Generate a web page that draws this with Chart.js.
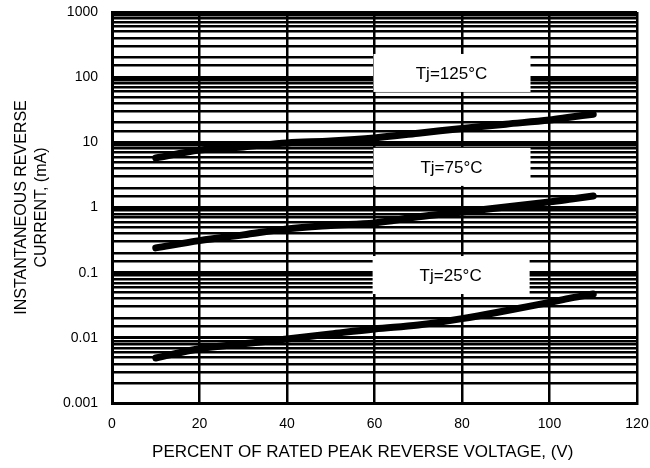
<!DOCTYPE html>
<html>
<head>
<meta charset="utf-8">
<script src="https://cdn.jsdelivr.net/npm/chart.js@4"></script>
<style>
  body { margin: 0; background: #fff; }
  canvas { display: block; }
</style>
</head>
<body>
<canvas id="chart" width="650" height="468"></canvas>
<script>
// percent of rated peak reverse voltage
const xValues = [10, 20, 30, 40, 50, 60, 70, 80, 90, 100, 105, 110];

// instantaneous reverse current (mA)
const current125 = [5.75, 7.6, 8.5, 9.8, 10.5, 11.7, 13.8, 16.3, 19, 22, 24.5, 27];
const current75 = [0.24, 0.31, 0.38, 0.47, 0.53, 0.58, 0.72, 0.85, 1.02, 1.22, 1.35, 1.5];
const current25 = [0.0049, 0.0068, 0.0081, 0.0096, 0.0115, 0.0137, 0.0157, 0.0197, 0.026, 0.035, 0.041, 0.047];

const xTicks = [0, 20, 40, 60, 80, 100, 120];
const yTickLabels = ["0.001", "0.01", "0.1", "1", "10", "100", "1000"];

// curve labels: text, x centre (percent), y centre (mA)
const labelTexts = ["Tj=125°C", "Tj=75°C", "Tj=25°C"];
const labelX = [77.6, 77.6, 77.4];
const labelY = [116, 4.2, 0.092];

const FONT = "'Liberation Sans', Arial, sans-serif";

function curve(values) {
  return {
    data: xValues.map((x, i) => ({ x: x, y: values[i] })),
    borderColor: "#000",
    borderWidth: 7,
    borderCapStyle: "round",
    borderJoinStyle: "round",
    pointRadius: 0,
    tension: 0.35,
    fill: false
  };
}

const labelBoxes = {
  id: "labelBoxes",
  beforeDatasetsDraw(chart) {
    const ctx = chart.ctx;
    const xs = chart.scales.x, ys = chart.scales.y;
    ctx.save();
    ctx.font = "17px " + FONT;
    ctx.textAlign = "center";
    ctx.textBaseline = "middle";
    labelTexts.forEach((t, i) => {
      const cx = xs.getPixelForValue(labelX[i]);
      const cy = ys.getPixelForValue(labelY[i]);
      ctx.fillStyle = "#fff";
      ctx.fillRect(cx - 78, cy - 19, 157, 38);
      ctx.fillStyle = "#000";
      ctx.fillText(t, cx, cy + 1);
    });
    ctx.restore();
  }
};

function isDecade(v) {
  const l = Math.log10(v);
  return Math.abs(l - Math.round(l)) < 1e-6;
}

new Chart(document.getElementById("chart"), {
  type: "line",
  data: {
    datasets: [curve(current125), curve(current75), curve(current25)]
  },
  options: {
    responsive: false,
    animation: false,
    layout: { padding: { top: 12, right: 13, left: 0, bottom: 0 } },
    plugins: {
      legend: { display: false },
      tooltip: { enabled: false }
    },
    scales: {
      x: {
        type: "linear",
        min: 0,
        max: 120,
        afterBuildTicks: (scale) => { scale.ticks = xTicks.map(v => ({ value: v })); },
        afterFit: (scale) => {
          scale.height = 65;
          scale.paddingLeft = 0;
          scale.paddingRight = 0;
        },
        grid: { color: "#000", lineWidth: 2.5, drawTicks: false },
        border: { color: "#000", width: 3 },
        ticks: {
          color: "#000",
          font: { family: FONT, size: 14 },
          padding: 13
        },
        title: {
          display: true,
          text: "PERCENT OF RATED PEAK REVERSE VOLTAGE, (V)     ",
          color: "#000",
          font: { family: FONT, size: 17 },
          padding: { top: 0, bottom: 5 }
        }
      },
      y: {
        type: "logarithmic",
        min: 0.001,
        max: 1000,
        afterFit: (scale) => {
          scale.width = 112;
          scale.paddingTop = 0;
          scale.paddingBottom = 0;
        },
        grid: {
          color: "#000",
          lineWidth: (ctx) => (ctx.tick && isDecade(ctx.tick.value) ? 3 : 2.5),
          drawTicks: false
        },
        border: { color: "#000", width: 3 },
        ticks: {
          autoSkip: false,
          color: "#000",
          font: { family: FONT, size: 14 },
          padding: 14,
          callback: (v) => isDecade(v) ? yTickLabels[Math.round(Math.log10(v)) + 3] : ""
        },
        title: {
          display: true,
          text: ["INSTANTANEOUS REVERSE", "CURRENT, (mA)"],
          color: "#000",
          font: { family: FONT, size: 16, lineHeight: 1.25 },
          padding: { top: 12, bottom: 0 }
        }
      }
    }
  },
  plugins: [labelBoxes]
});
</script>
</body>
</html>
